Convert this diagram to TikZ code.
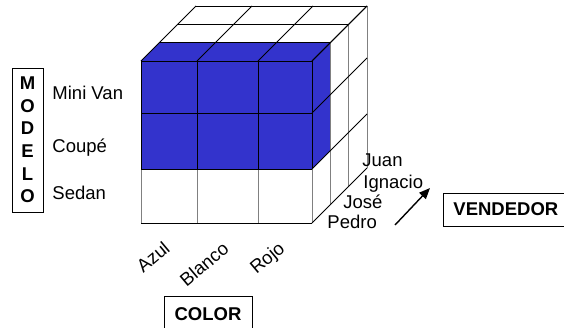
\documentclass[tikz,border=0pt]{standalone}
\usepackage{fontspec}
\setmainfont{Liberation Sans}
\usepackage{xcolor}
\definecolor{cubeblue}{HTML}{3333CC}
\definecolor{gridgray}{HTML}{808080}
\usetikzlibrary{arrows.meta}

\begin{document}
\begin{tikzpicture}[x=1pt, y=-1pt, line width=0.9pt,
	label/.style={inner sep=0pt, font=\fontsize{18.5}{21}\selectfont},
	titlebox/.style={draw, line width=0.9pt, font=\fontsize{18.5}{22.6}\selectfont\bfseries}]
	\useasboundingbox (0,0) rectangle (564,327);
	
	\fill[cubeblue] (141,61) -- (159.33,42.67) -- (330.33,42.67) -- (330.33,150.67) -- (312,169) -- (141,169) -- cycle;
	
	\foreach \k in {1,2,3} {
		\draw[gridgray] ({312+18.33*\k},{61-18.33*\k}) -- ({312+18.33*\k},{223-18.33*\k});
	}
	\foreach \x in {141,197,258,312} {
		\draw[gridgray] (\x,169) -- (\x,223);
		\draw (\x,61) -- (\x,169);
		\draw (\x,61) -- ({\x+55},6);
	}
	\foreach \y in {61,113,169,223} {
		\draw (141,\y) -- (312,\y);
		\draw (312,\y) -- (367,{\y-55});
	}
	\foreach \k in {1,2,3} {
		\draw ({141+18.33*\k},{61-18.33*\k}) -- ({312+18.33*\k},{61-18.33*\k});
	}
	
	\node[label, anchor=base west] (minivan) at (52,99) {Mini Van};
	\node[label, anchor=base west] (coupe) at (52,152) {Coupé};
	\node[label, anchor=base west] (sedan) at (52,199.5) {Sedan};
	
	\node[label, rotate=40] (azul) at (153,257) {Azul};
	\node[label, rotate=40] (blanco) at (204,264) {Blanco};
	\node[label, rotate=40] (rojo) at (268,259) {Rojo};
	
	\node[label, anchor=base west] (juan) at (362,166.5) {Juan};
	\node[label, anchor=base west] (ignacio) at (363,188.5) {Ignacio};
	\node[label, anchor=base west] (jose) at (343,208.5) {José};
	\node[label, anchor=base west] (pedro) at (327,228) {Pedro};
	
	\coordinate (arrow tail) at (395,225);
	\coordinate (arrow head) at (430,188);
	\draw[-{Triangle[length=11pt, width=9pt]}, line width=1.4pt] (arrow tail) -- (arrow head);
	
	\node[titlebox, minimum width=31, minimum height=144, inner sep=0pt, align=center] (modelo) at (27.5,140) {M\\O\\D\\E\\L\\O};
	\node[titlebox, anchor=west, minimum height=33, inner xsep=10pt] (vendedor) at (443,209.5) {VENDEDOR};
	\node[titlebox, minimum width=88, minimum height=36] (color) at (208,314) {COLOR};
\end{tikzpicture}
\end{document}
